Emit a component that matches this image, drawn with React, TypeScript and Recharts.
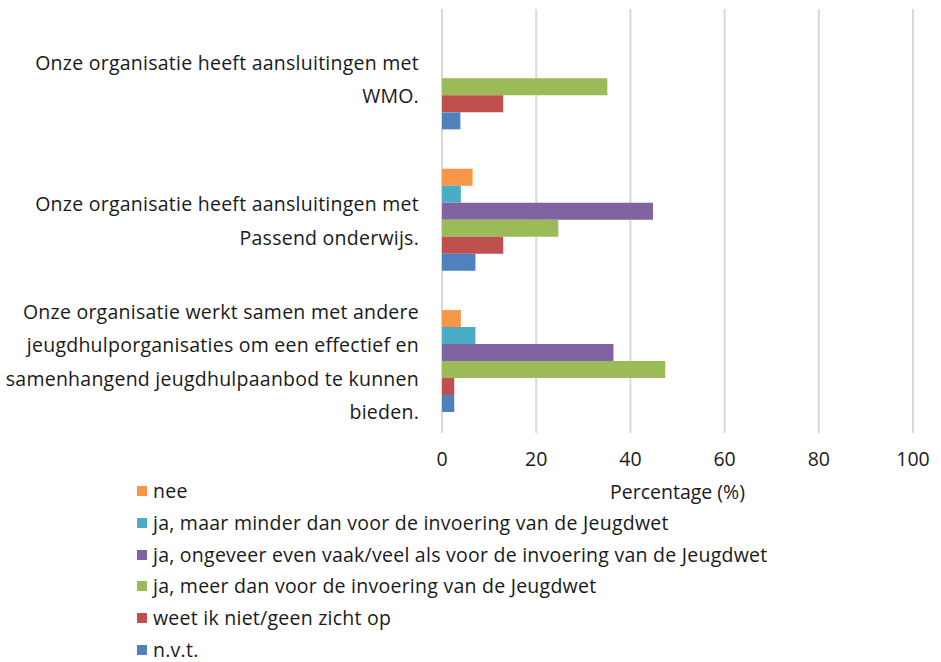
import { Bar, BarChart, CartesianGrid, XAxis, YAxis } from 'recharts';

const categories = [
    "Onze organisatie heeft aansluitingen met\nWMO.",
    "Onze organisatie heeft aansluitingen met\nPassend onderwijs.",
    "Onze organisatie werkt samen met andere\njeugdhulporganisaties om een effectief en\nsamenhangend jeugdhulpaanbod te kunnen\nbieden.",
];

const nee = [0, 6.5, 4];
const jaMinder = [0, 4, 7.1];
const jaOngeveer = [0, 44.8, 36.4];
const jaMeer = [35.1, 24.7, 47.4];
const weetNiet = [13, 13, 2.6];
const nvt = [3.9, 7.1, 2.6];

const xTicks = [0, 20, 40, 60, 80, 100];

// legend / series order, top to bottom
const series = [
    { key: "nee", name: "nee", values: nee, color: "#F79646" },
    { key: "minder", name: "ja, maar minder dan voor de invoering van de Jeugdwet", values: jaMinder, color: "#4BACC6" },
    { key: "ongeveer", name: "ja, ongeveer even vaak/veel als voor de invoering van de Jeugdwet", values: jaOngeveer, color: "#8064A2" },
    { key: "meer", name: "ja, meer dan voor de invoering van de Jeugdwet", values: jaMeer, color: "#9BBB59" },
    { key: "weet", name: "weet ik niet/geen zicht op", values: weetNiet, color: "#C0504D" },
    { key: "nvt", name: "n.v.t.", values: nvt, color: "#4F81BD" },
];

const data = categories.map((name, i) => {
    const row: Record<string, string | number> = { name };
    series.forEach(s => { row[s.key] = s.values[i]; });
    return row;
});

const FONT = "'Open Sans', sans-serif";
const FS = 19.5;
const LS = 0.25;
const LINE = 33.5;

const CategoryTick = (props: any) => {
    const { y, payload } = props;
    const lines: string[] = String(payload.value).split("\n");
    const start = y - ((lines.length - 1) * LINE) / 2;
    return (
        <text x={419} y={start} textAnchor="end" fontSize={FS} letterSpacing={LS} fill="#1a1a1a" fontFamily={FONT}>
            {lines.map((l, i) => (
                <tspan key={i} x={419} y={start + i * LINE} dy="0.35em">{l}</tspan>
            ))}
        </text>
    );
};

const App = () => {
    return (
        <div style={{ position: "absolute", left: 0, top: 0, width: 941, height: 662, background: "#fff", fontFamily: FONT, overflow: "hidden" }}>
            <BarChart
                width={941}
                height={512}
                data={data}
                layout="vertical"
                barCategoryGap="13%"
                barGap={0}
                margin={{ top: 9, right: 28, bottom: 0, left: 0 }}
            >
                <CartesianGrid horizontal={false} stroke="#d9d9d9" strokeWidth={2} />
                <XAxis
                    type="number"
                    domain={[0, 100]}
                    ticks={xTicks}
                    axisLine={false}
                    tickLine={false}
                    tickMargin={13}
                    height={79}
                    tick={{ fontSize: FS, fill: "#1a1a1a", fontFamily: FONT }}
                    label={{ value: "Percentage (%)", position: "insideBottom", offset: 13, fontSize: FS, fill: "#1a1a1a", fontFamily: FONT }}
                />
                <YAxis
                    type="category"
                    dataKey="name"
                    width={442}
                    axisLine={false}
                    tickLine={false}
                    tick={<CategoryTick />}
                    interval={0}
                />
                {series.map(s => (
                    <Bar key={s.key} dataKey={s.key} name={s.name} fill={s.color} isAnimationActive={false} />
                ))}
            </BarChart>
            <div style={{ position: "absolute", left: 137, top: 479, fontSize: FS, letterSpacing: LS, color: "#1a1a1a", lineHeight: "24px" }}>
                {series.map(s => (
                    <div key={s.key} style={{ height: 24, marginBottom: 7.8, display: "flex", alignItems: "center", whiteSpace: "nowrap" }}>
                        <span style={{ width: 10, height: 10, background: s.color, display: "inline-block", marginRight: 6 }} />
                        {s.name}
                    </div>
                ))}
            </div>
        </div>
    );
};

export default App;
